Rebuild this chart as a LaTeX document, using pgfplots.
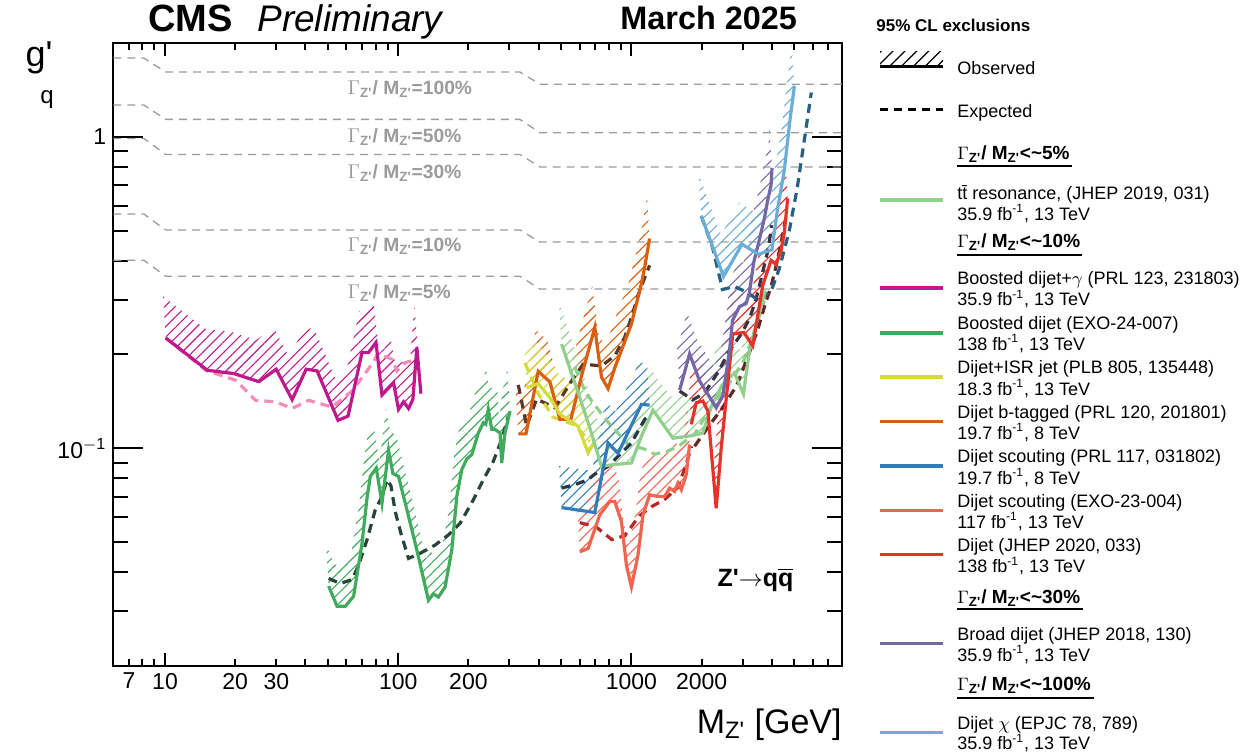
\documentclass[border=0pt]{standalone}
\usepackage{fontspec}
\setmainfont{Liberation Sans}
\setsansfont{Liberation Sans}
\usepackage{pgfplots}
\usepackage{pgfplotstable}
\pgfplotsset{compat=1.18}
\usepgfplotslibrary{fillbetween}
\usetikzlibrary{patterns.meta}

\definecolor{cMag}{RGB}{190,24,140}
\definecolor{cPink}{RGB}{245,140,185}
\definecolor{cGrn}{RGB}{65,171,93}
\definecolor{cGrnE}{RGB}{40,70,55}
\definecolor{cYlw}{RGB}{210,220,60}
\definecolor{cOrg}{RGB}{217,95,14}
\definecolor{cOrgE}{RGB}{90,55,40}
\definecolor{cBlu}{RGB}{49,125,185}
\definecolor{cBluE}{RGB}{40,55,70}
\definecolor{cSal}{RGB}{240,100,80}
\definecolor{cSalE}{RGB}{180,40,40}
\definecolor{cRed}{RGB}{230,50,40}
\definecolor{cRedE}{RGB}{100,40,40}
\definecolor{cLtg}{RGB}{145,208,140}
\definecolor{cPur}{RGB}{117,102,168}
\definecolor{cPurE}{RGB}{60,50,70}
\definecolor{cStl}{RGB}{107,174,214}
\definecolor{cStlE}{RGB}{40,95,130}
\definecolor{cGray}{RGB}{155,155,155}

\newcommand{\zp}{Z\textquotesingle}

% width reference lines
\pgfplotstableread{
x y
6 1.789
8.11 1.789
10.07 1.613
332.7 1.613
405.2 1.475
8000 1.475
}\wA
\pgfplotstableread{
x y
6 1.265
8.11 1.265
10.07 1.137
332.7 1.137
405.2 1.030
8000 1.030
}\wB
\pgfplotstableread{
x y
6 0.9875
8.11 0.9875
10.07 0.877
332.7 0.877
405.2 0.800
8000 0.800
}\wC
\pgfplotstableread{
x y
6 0.565
8.11 0.565
10.07 0.502
332.7 0.502
405.2 0.459
8000 0.459
}\wD
\pgfplotstableread{
x y
6 0.4016
8.11 0.4016
10.07 0.3565
332.7 0.3565
405.2 0.3245
8000 0.3245
}\wE

% boosted dijet+gamma
\pgfplotstableread{
x y
10.07 0.226
15.19 0.178
19.73 0.1737
25.25 0.1636
29.97 0.1794
35.09 0.1432
40.28 0.1794
44.88 0.1772
55.20 0.1229
60.93 0.1268
69.95 0.203
74.64 0.203
80.27 0.2186
85.18 0.1482
95.48 0.1624
100.3 0.1333
105.4 0.141
110.7 0.1342
115.6 0.1436
120.2 0.2106
125.1 0.1497
}\magObs
\pgfplotstableread{
x y
10.07 0.226
14.94 0.178
20.07 0.1654
24.44 0.1425
29.77 0.141
35.09 0.1342
41.32 0.1425
52.03 0.1356
63.37 0.1527
77.18 0.1862
81.88 0.2014
93.99 0.1932
98.73 0.1772
107.1 0.1884
122.1 0.1932
}\magExp

% boosted dijet
\pgfplotstableread{
x y
50.3 0.0361
54.67 0.0311
59.33 0.0311
64.37 0.0335
69.95 0.0495
73.47 0.0691
75.9 0.0812
80.51 0.0864
85.18 0.0666
90.9 0.0985
94.92 0.0829
100.3 0.0812
109.0 0.0634
120.2 0.0471
134.8 0.0325
141.6 0.0341
148.8 0.0333
158.9 0.0359
169.7 0.0471
178.3 0.070
187.3 0.0854
196.8 0.0924
206.7 0.0954
220.6 0.112
231.7 0.1207
237.3 0.1193
243.4 0.1333
251.8 0.1149
260.1 0.1149
273.3 0.112
277.8 0.0897
287.0 0.112
301.5 0.1316
}\grnObs
\pgfplotstableread{
x y
50.3 0.0382
56.47 0.0368
63.37 0.0379
67.65 0.0421
73.47 0.0508
79.72 0.0634
85.18 0.070
89.47 0.0793
93.07 0.0758
97.08 0.0626
102.7 0.0533
110.7 0.0443
124.2 0.0460
144.0 0.0489
164.1 0.0527
184.2 0.0574
210.0 0.0683
231.7 0.0793
255.8 0.0908
277.8 0.1067
296.5 0.1268
}\grnExp

% dijet b-tagged
\pgfplotstableread{
x y
327.2 0.1112
353.0 0.1112
398.4 0.1765
447.2 0.1633
493.4 0.1238
550.0 0.1238
611.1 0.1707
696.6 0.2444
708.4 0.2215
743.9 0.1694
794.1 0.1555
848.3 0.1811
1000 0.2506
1104 0.3373
1140 0.3816
1197 0.4713
}\orgObs
\pgfplotstableread{
x y
327.2 0.1597
355.4 0.1178
392.2 0.1439
469.8 0.1349
553.8 0.1645
620.8 0.1862
743.9 0.1838
848.3 0.198
935.2 0.2269
1000 0.2632
1085 0.3209
1197 0.3865
}\orgExp

% dijet+ISR
\pgfplotstableread{
x y
355.4 0.1565
398.4 0.1612
447.2 0.1453
493.4 0.1287
589.2 0.1178
652.2 0.0966
696.6 0.1053
}\ylwObs
\pgfplotstableread{
x y
349.5 0.188
397.2 0.1505
460.6 0.1259
572.1 0.1187
663.2 0.1053
}\ylwExp

% ttbar resonance
\pgfplotstableread{
x y
501.7 0.2161
600.9 0.1453
663.2 0.1163
743.9 0.0875
834.2 0.0886
1000 0.0897
1104 0.1093
1237 0.1326
1507 0.1077
1747 0.1093
2019 0.1117
2206 0.1366
2435 0.1585
2767 0.1745
3024 0.1493
3207 0.2056
3471 0.2607
3756 0.3209
}\ltgObs
\pgfplotstableread{
x y
572.1 0.1825
637.6 0.1505
738.9 0.1297
807.6 0.1196
964.2 0.103
1140 0.0993
1258 0.0957
1430 0.0978
1610 0.1022
1866 0.111
2206 0.1366
2583 0.1585
3033 0.191
3272 0.2215
3719 0.298
}\ltgExp

% dijet scouting 8 TeV
\pgfplotstableread{
x y
501.7 0.0645
696.6 0.0622
794.1 0.104
876.4 0.0964
1104 0.1383
1197 0.1376
}\bluObs
\pgfplotstableread{
x y
501.7 0.0745
572.1 0.0764
652.2 0.0793
691.8 0.0823
794.1 0.0875
876.4 0.0942
1000 0.104
1140 0.1238
1197 0.1284
}\bluExp

% dijet scouting EXO-23-004
\pgfplotstableread{
x y
600.9 0.0465
652.2 0.0477
731.6 0.0611
807.6 0.0675
848.3 0.0675
906.3 0.0581
952.0 0.0421
1000 0.0359
1067 0.0454
1121 0.0611
1197 0.0709
1300 0.070
1389 0.070
1458 0.0745
1532 0.0727
1583 0.0773
1637 0.0736
1719 0.0823
1776 0.1028
}\salObs
\pgfplotstableread{
x y
600.9 0.0577
703.6 0.056
823.7 0.0509
935.2 0.0524
1085 0.0608
1222 0.065
1389 0.0685
1578 0.0748
1707 0.0875
1811 0.1015
}\salExp

% dijet JHEP 2020
\pgfplotstableread{
x y
1806 0.1193
1897 0.14
2025 0.1418
2127 0.1316
2310 0.0642
2427 0.1002
2721 0.2327
3033 0.2355
3314 0.2133
3657 0.3332
3972 0.401
4173 0.3893
4384 0.4318
4529 0.4938
4679 0.6342
}\redObs
\pgfplotstableread{
x y
1866 0.1015
2163 0.1187
2435 0.1336
2822 0.1585
3145 0.1951
3471 0.2384
3756 0.2914
3984 0.3332
4227 0.401
4440 0.4794
4619 0.5602
}\redExp

% broad dijet
\pgfplotstableread{
x y
1610 0.1539
1642 0.1621
1776 0.201
1960 0.1645
2310 0.1349
2466 0.1472
2634 0.2056
2713 0.257
2907 0.285
3105 0.2914
3207 0.3162
3347 0.3953
3516 0.4584
3719 0.548
3842 0.626
3972 0.7002
4008 0.7943
}\purObs
\pgfplotstableread{
x y
1610 0.1527
1830 0.1429
2059 0.1505
2341 0.1745
2634 0.2056
2965 0.2332
3207 0.2607
3413 0.298
3585 0.346
3869 0.4385
3996 0.5201
}\purExp

% dijet chi
\pgfplotstableread{
x y
1993 0.558
2483 0.356
2980 0.4517
3505 0.4195
4004 0.4336
4227 0.5813
4529 0.7824
4758 1.093
4998 1.453
}\stlObs
\pgfplotstableread{
x y
1993 0.556
2228 0.4417
2459 0.3233
2767 0.3306
3145 0.3162
3516 0.298
3984 0.3209
4311 0.378
4758 0.501
5149 0.6899
5516 0.978
5909 1.387
}\stlExp

% hatched band on the excluded side of an observed curve
\newcommand{\obsband}[3]{%
  \addplot[draw=none, name path=#3lo, forget plot] table {#1};
  \addplot[draw=none, name path=#3hi, forget plot] table[x expr=\thisrow{x}*0.975, y expr=\thisrow{y}*1.36] {#1};
  \addplot[draw=none, pattern={Lines[angle=45,distance=3.7pt,line width=0.55pt]},
    pattern color=#2, forget plot] fill between[of=#3lo and #3hi];
}

\begin{document}
\begin{tikzpicture}
\begin{axis}[
    at={(0pt,0pt)}, anchor=south west,
    scale only axis, width=364.35pt, height=311.5pt,
    xmode=log, ymode=log,
    xmin=6, xmax=8000, ymin=0.02, ymax=2,
    axis line style={line width=1pt},
    tick style={line width=1pt, black},
    xtick={10,100,1000}, xticklabels={10,100,1000},
    extra x ticks={7,20,30,200,2000},
    extra x tick labels={7,20,30,200,2000},
    extra x tick style={xtick style={/pgfplots/major tick length=3.5pt}},
    minor xtick={7,8,9,20,30,40,50,60,70,80,90,200,300,400,500,600,700,800,900,2000,3000,4000,5000,6000,7000,8000},
    ytick={0.1,1}, yticklabels={10\textsuperscript{$-$1},1},
    minor ytick={0.02,0.03,0.04,0.05,0.06,0.07,0.08,0.09,0.2,0.3,0.4,0.5,0.6,0.7,0.8,0.9,2},
    xtick style={/pgfplots/major tick length=6.5pt,/pgfplots/minor tick length=3.5pt},
    ytick style={/pgfplots/major tick length=15pt,/pgfplots/minor tick length=7.5pt},
    ticklabel style={font=\fontsize{11.5}{12}\selectfont},
    /pgf/number format/assume math mode=true,
  ]
  % width lines
  \addplot[cGray, line width=0.65pt, dash pattern=on 4pt off 3pt] table {\wA};
  \addplot[cGray, line width=0.65pt, dash pattern=on 4pt off 3pt] table {\wB};
  \addplot[cGray, line width=0.65pt, dash pattern=on 4pt off 3pt] table {\wC};
  \addplot[cGray, line width=0.65pt, dash pattern=on 4pt off 3pt] table {\wD};
  \addplot[cGray, line width=0.65pt, dash pattern=on 4pt off 3pt] table {\wE};

  \node[anchor=west, inner sep=0pt, text=cGray, font=\bfseries\fontsize{9.6}{10}\selectfont] at (axis cs:60.5,1.421) {$\Gamma$\textsubscript{\zp}/ M\textsubscript{\zp}=100\%};
  \node[anchor=west, inner sep=0pt, text=cGray, font=\bfseries\fontsize{9.6}{10}\selectfont] at (axis cs:60.5,1.0) {$\Gamma$\textsubscript{\zp}/ M\textsubscript{\zp}=50\%};
  \node[anchor=west, inner sep=0pt, text=cGray, font=\bfseries\fontsize{9.6}{10}\selectfont] at (axis cs:60.5,0.767) {$\Gamma$\textsubscript{\zp}/ M\textsubscript{\zp}=30\%};
  \node[anchor=west, inner sep=0pt, text=cGray, font=\bfseries\fontsize{9.6}{10}\selectfont] at (axis cs:60.5,0.4457) {$\Gamma$\textsubscript{\zp}/ M\textsubscript{\zp}=10\%};
  \node[anchor=west, inner sep=0pt, text=cGray, font=\bfseries\fontsize{9.6}{10}\selectfont] at (axis cs:60.5,0.3143) {$\Gamma$\textsubscript{\zp}/ M\textsubscript{\zp}=5\%};

  % hatched bands
  \obsband{\magObs}{cMag}{mag}
  \obsband{\grnObs}{cGrn}{grn}
  \obsband{\orgObs}{cOrg}{org}
  \obsband{\ylwObs}{cYlw}{ylw}
  \obsband{\ltgObs}{cLtg}{ltg}
  \obsband{\bluObs}{cBlu}{blu}
  \obsband{\salObs}{cSal}{sal}
  \obsband{\redObs}{cRed}{red}
  \obsband{\purObs}{cPur}{pur}
  \obsband{\stlObs}{cStl}{stl}

  % expected
  \addplot[cPink, line width=1.6pt, dash pattern=on 4.5pt off 3pt] table {\magExp};
  \addplot[cGrnE, line width=1.6pt, dash pattern=on 4.5pt off 3pt] table {\grnExp};
  \addplot[cOrgE, line width=1.6pt, dash pattern=on 4.5pt off 3pt] table {\orgExp};
  \addplot[cYlw, line width=1.6pt, dash pattern=on 4.5pt off 3pt] table {\ylwExp};
  \addplot[cLtg, line width=1.6pt, dash pattern=on 4.5pt off 3pt] table {\ltgExp};
  \addplot[cBluE, line width=1.6pt, dash pattern=on 4.5pt off 3pt] table {\bluExp};
  \addplot[cSalE, line width=1.6pt, dash pattern=on 4.5pt off 3pt] table {\salExp};
  \addplot[cRedE, line width=1.6pt, dash pattern=on 4.5pt off 3pt] table {\redExp};
  \addplot[cPurE, line width=1.6pt, dash pattern=on 4.5pt off 3pt] table {\purExp};
  \addplot[cStlE, line width=1.6pt, dash pattern=on 4.5pt off 3pt] table {\stlExp};

  % observed
  \addplot[cMag, line width=1.6pt] table {\magObs};
  \addplot[cGrn, line width=1.6pt] table {\grnObs};
  \addplot[cOrg, line width=1.6pt] table {\orgObs};
  \addplot[cYlw, line width=1.6pt] table {\ylwObs};
  \addplot[cLtg, line width=1.6pt] table {\ltgObs};
  \addplot[cBlu, line width=1.6pt] table {\bluObs};
  \addplot[cSal, line width=1.6pt] table {\salObs};
  \addplot[cRed, line width=1.6pt] table {\redObs};
  \addplot[cPur, line width=1.6pt] table {\purObs};
  \addplot[cStl, line width=1.6pt] table {\stlObs};

  \node[font=\bfseries\fontsize{12.5}{14}\selectfont] at (axis cs:3403,0.03776) {\zp$\rightarrow$q$\overline{\hbox{q}}$};
\end{axis}

\begin{scope}[shift={(-56.65pt,333pt)}, x=0.5pt, y=-0.5pt,
  lt/.style={anchor=west, inner sep=0pt, text height=0.72em, text depth=0pt, font=\fontsize{9}{10}\selectfont},
  hd/.style={anchor=west, inner sep=0pt, text height=0.72em, text depth=0pt, font=\bfseries\fontsize{9.5}{10}\selectfont}]
  \useasboundingbox (0,0) rectangle (1245,754);
  % title
  \node[anchor=base west, inner sep=0pt, font=\bfseries\fontsize{19}{20}\selectfont] at (148,32) {CMS};
  \node[anchor=base west, inner sep=0pt, font=\itshape\fontsize{18.5}{20}\selectfont] at (257,32) {Preliminary};
  \node[anchor=base west, inner sep=0pt, font=\bfseries\fontsize{16.2}{18}\selectfont] at (620,30) {March 2025};
  % axis titles
  \node[anchor=base east, inner sep=0pt, font=\fontsize{17}{18}\selectfont] at (842,733) {M\textsubscript{\zp} [GeV]};
  \node[inner sep=0pt, font=\fontsize{18}{18}\selectfont] at (39,58) {g\textquotesingle};
  \node[inner sep=0pt, font=\fontsize{12}{14}\selectfont] at (47,100) {q};
  % legend
  \node[anchor=west, inner sep=0pt, text height=0.72em, text depth=0pt, font=\bfseries\fontsize{8.5}{10}\selectfont] at (876,24) {95\% CL exclusions};
  \fill[pattern={Lines[angle=45,distance=4.2pt,line width=0.6pt]}, pattern color=black] (880,52) rectangle (943,65.5);
  \draw[line width=1.5pt] (880,66.5) -- (943,66.5);
  \node[lt] at (957,67.5) {Observed};
  \draw[line width=1.5pt, dash pattern=on 4pt off 3pt] (880,110) -- (943,110);
  \node[lt] at (957,110) {Expected};

  \node[hd] at (957,152) {$\Gamma$\textsubscript{\zp}/ M\textsubscript{\zp}<\textasciitilde5\%};
  \draw[line width=1.1pt] (957,165.7) -- (1072,165.7);
  \draw[line width=1.6pt, cLtg] (880,200) -- (943,200);
  \node[lt] at (957,192.5) {t\={t} resonance, (JHEP 2019, 031)};
  \node[lt] at (957,213) {35.9 fb\textsuperscript{-1}, 13 TeV};

  \node[hd] at (957,240) {$\Gamma$\textsubscript{\zp}/ M\textsubscript{\zp}<\textasciitilde10\%};
  \draw[line width=1.1pt] (957,255) -- (1082,255);
  \draw[line width=1.6pt, cMag] (880,288) -- (943,288);
  \node[lt] at (957,277.5) {Boosted dijet+$\gamma$ (PRL 123, 231803)};
  \node[lt] at (957,298.5) {35.9 fb\textsuperscript{-1}, 13 TeV};
  \draw[line width=1.6pt, cGrn] (880,333) -- (943,333);
  \node[lt] at (957,322) {Boosted dijet (EXO-24-007)};
  \node[lt] at (957,343) {138 fb\textsuperscript{-1}, 13 TeV};
  \draw[line width=1.6pt, cYlw] (880,377) -- (943,377);
  \node[lt] at (957,366.5) {Dijet+ISR jet (PLB 805, 135448)};
  \node[lt] at (957,388) {18.3 fb\textsuperscript{-1}, 13 TeV};
  \draw[line width=1.6pt, cOrg] (880,421.7) -- (943,421.7);
  \node[lt] at (957,411) {Dijet b-tagged (PRL 120, 201801)};
  \node[lt] at (957,432) {19.7 fb\textsuperscript{-1}, 8 TeV};
  \draw[line width=1.6pt, cBlu] (880,466) -- (943,466);
  \node[lt] at (957,455.5) {Dijet scouting (PRL 117, 031802)};
  \node[lt] at (957,477) {19.7 fb\textsuperscript{-1}, 8 TeV};
  \draw[line width=1.6pt, cSal] (880,510.3) -- (943,510.3);
  \node[lt] at (957,500) {Dijet scouting (EXO-23-004)};
  \node[lt] at (957,521) {117 fb\textsuperscript{-1}, 13 TeV};
  \draw[line width=1.6pt, cRed] (880,554.7) -- (943,554.7);
  \node[lt] at (957,544) {Dijet (JHEP 2020, 033)};
  \node[lt] at (957,565.5) {138 fb\textsuperscript{-1}, 13 TeV};

  \node[hd] at (957,596) {$\Gamma$\textsubscript{\zp}/ M\textsubscript{\zp}<\textasciitilde30\%};
  \draw[line width=1.1pt] (957,609.3) -- (1083,609.3);
  \draw[line width=1.6pt, cPur] (880,643.7) -- (943,643.7);
  \node[lt] at (957,633.3) {Broad dijet (JHEP 2018, 130)};
  \node[lt] at (957,654) {35.9 fb\textsuperscript{-1}, 13 TeV};

  \node[hd] at (957,683) {$\Gamma$\textsubscript{\zp}/ M\textsubscript{\zp}<\textasciitilde100\%};
  \draw[line width=1.1pt] (957,698.3) -- (1094,698.3);
  \draw[line width=1.6pt, cStl] (880,732.3) -- (943,732.3);
  \node[lt] at (957,722.5) {Dijet $\chi$ (EPJC 78, 789)};
  \node[lt] at (957,742.5) {35.9 fb\textsuperscript{-1}, 13 TeV};
\end{scope}
\end{tikzpicture}
\end{document}
